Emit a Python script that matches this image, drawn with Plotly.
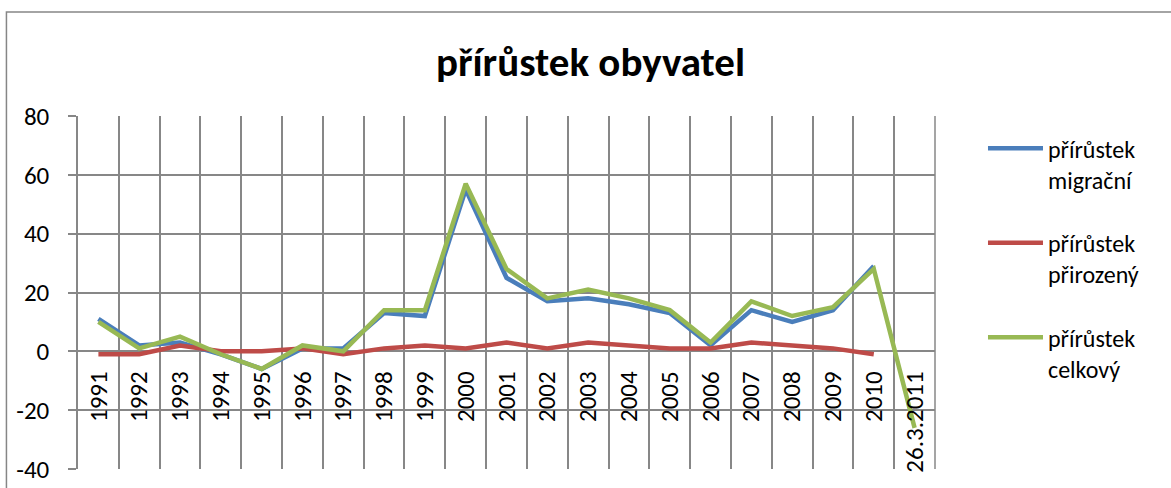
import plotly.graph_objects as go

categories = ["1991", "1992", "1993", "1994", "1995", "1996", "1997", "1998", "1999", "2000",
              "2001", "2002", "2003", "2004", "2005", "2006", "2007", "2008", "2009", "2010",
              "26.3.2011"]
migracni = [11, 2, 3, -1, -6, 1, 1, 13, 12, 55, 25, 17, 18, 16, 13, 2, 14, 10, 14, 29, None]
prirozeny = [-1, -1, 2, 0, 0, 1, -1, 1, 2, 1, 3, 1, 3, 2, 1, 1, 3, 2, 1, -1, None]
celkovy = [10, 1, 5, -1, -6, 2, 0, 14, 14, 57, 28, 18, 21, 18, 14, 3, 17, 12, 15, 28, -26]
series_names = ["přírůstek<br>migrační", "přírůstek<br>přirozený", "přírůstek<br>celkový"]
colors = ["#4A7EBB", "#BE4B48", "#98B954"]
y_ticks = [-40, -20, 0, 20, 40, 60, 80]
y_tick_text = ["-40", "-20", "0", "20", "40", "60", "80"]

FONT = "Carlito, Calibri, Lato, sans-serif"
GRID = "#878787"

fig = go.Figure()
for i, (vals, name, col) in enumerate(zip([migracni, prirozeny, celkovy], series_names, colors)):
    fig.add_trace(go.Scatter(
        x=categories, y=vals, mode="lines", name=name,
        line=dict(color=col, width=4.5), legendgroup=f"g{i}",
        connectgaps=False,
    ))

fig.update_layout(
    width=1171, height=488,
    margin=dict(l=78, r=236, t=116, b=19),
    paper_bgcolor="white", plot_bgcolor="white",
    font=dict(family=FONT, size=24, color="black"),
    title=dict(text="<b>přírůstek obyvatel</b>", x=0.598, xanchor="center",
               y=0.873, yanchor="middle", xref="paper",
               font=dict(family=FONT, size=41, color="black")),
    showlegend=True,
    legend=dict(x=1.056, xanchor="left", y=0.971, yanchor="top",
                font=dict(family=FONT, size=24, color="black"),
                tracegroupgap=29, valign="top", itemwidth=55,
                bgcolor="rgba(0,0,0,0)"),
    xaxis=dict(type="category", range=[-0.5, 20.5], tickson="boundaries",
               showgrid=True, gridcolor=GRID, gridwidth=1.5,
               tickangle=-90, ticks="", anchor="free", position=1/3,
               showline=False, zeroline=False, automargin=False,
               ticklabelstandoff=14,
               tickfont=dict(family=FONT, size=25, color="black")),
    yaxis=dict(range=[-40, 80], tickvals=y_ticks, ticktext=y_tick_text, showgrid=True,
               gridcolor=GRID, gridwidth=1.5, zeroline=True,
               zerolinecolor=GRID, zerolinewidth=1.5,
               showline=True, linecolor=GRID, linewidth=1.5,
               ticks="outside", ticklen=8, tickcolor=GRID, tickwidth=1.5,
               automargin=False, ticklabelstandoff=14,
               tickfont=dict(family=FONT, size=25, color="black")),
)

fig.add_shape(type="line", xref="paper", yref="paper", x0=1, x1=1, y0=0, y1=1,
              line=dict(color=GRID, width=1.5), layer="below")
fig.add_shape(type="rect", xref="paper", yref="paper",
              x0=-0.0835, x1=1.6, y0=-0.5, y1=1.2946,
              line=dict(color="#868686", width=1.5), fillcolor="rgba(0,0,0,0)")

fig.write_html("out.html", config={"displayModeBar": False},
               post_script="document.body.style.margin='0px';")
